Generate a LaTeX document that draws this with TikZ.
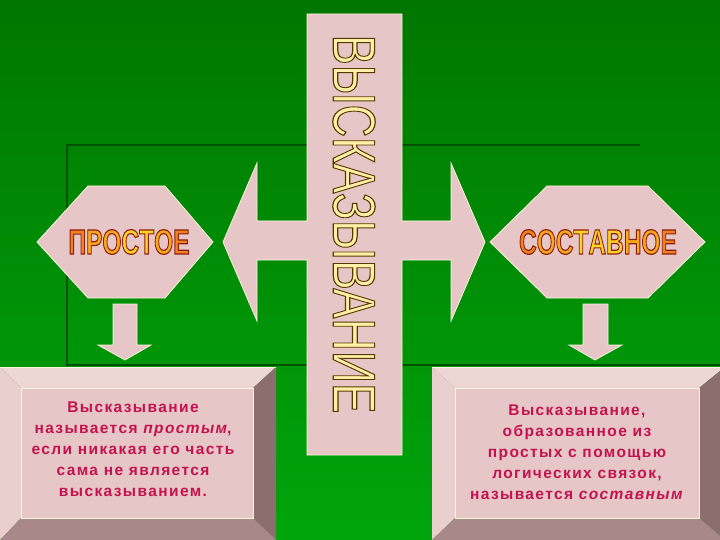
\documentclass[tikz,border=0pt]{standalone}
\usepackage{fontspec}
\usepackage{graphicx}
\setmainfont{Liberation Sans}

\definecolor{greentop}{RGB}{0,118,0}
\definecolor{greenbot}{RGB}{0,165,12}
\definecolor{framegreen}{RGB}{0,80,0}
\definecolor{paper}{RGB}{230,198,198}
\definecolor{paperlight}{RGB}{238,214,212}
\definecolor{paperdark}{RGB}{140,110,110}
\definecolor{papermid}{RGB}{168,136,136}
\definecolor{rim}{RGB}{250,246,220}
\definecolor{crimson}{RGB}{196,18,78}
\definecolor{titlefill}{RGB}{255,240,168}
\definecolor{hexedge}{RGB}{240,128,32}
\definecolor{hexmid}{RGB}{250,168,30}
\definecolor{hexcore}{RGB}{255,210,40}

% letters with a dark outline (fill colour, stroke rgb, text)
\newcommand{\outlined}[3]{{\color{#1}\special{pdf:literal direct #2 RG 2 Tr 1.2 w}#3\special{pdf:literal direct 0 Tr}}}
\newcommand{\hl}[2]{\outlined{#1}{0.55 0.12 0.05}{#2}}

\begin{document}
\begin{tikzpicture}[x=1pt,y=-1pt,
    paper/.style={fill=paper, draw=rim, line width=0.8pt},
    hextext/.style={font=\fontsize{35}{35}\selectfont\bfseries},
    boxtext/.style={text=crimson, align=center,
      font=\fontsize{15.5}{21}\selectfont\bfseries\addfontfeature{LetterSpace=9}}
  ]
  \shade[top color=greentop, bottom color=greenbot] (0,0) rectangle (720,540);
  \useasboundingbox (0,0) rectangle (720,540);
  % dark frame behind the cross
  \draw[framegreen, line width=2.5pt] (640,145) -- (67,145) -- (67,365) -- (720,365);

  % the cross with the double arrow
  \draw[paper] (307,14) -- (402,14) -- (402,221) -- (451,221) -- (451,163) -- (485,242)
    -- (451,321) -- (451,260) -- (402,260) -- (402,455) -- (307,455) -- (307,260)
    -- (257,260) -- (257,321) -- (223,242) -- (257,163) -- (257,221) -- (307,221) -- cycle;
  \node[rotate=-90] (statement) at (354,224)
    {\fontsize{60}{60}\selectfont\scalebox{0.75}[1]{\outlined{titlefill}{0.35 0.22 0}{ВЫСКАЗЫВАНИЕ}}};

  % hexagons
  \draw[paper] (37,242) -- (88,186) -- (165,186) -- (213,242) -- (165,298) -- (88,298) -- cycle;
  \draw[paper] (490,242) -- (547,186) -- (648,186) -- (705,242) -- (648,298) -- (547,298) -- cycle;
  \node[hextext] (simple) at (129,242)
    {\scalebox{0.7}[1]{\hl{hexedge}{П}\hl{hexmid}{Р}\hl{hexmid}{О}\hl{hexcore}{С}\hl{hexcore}{Т}\hl{hexmid}{О}\hl{hexedge}{Е}}};
  \node[hextext] (compound) at (598,242)
    {\scalebox{0.7}[1]{\hl{hexedge}{С}\hl{hexmid}{О}\hl{hexmid}{С}\hl{hexcore}{Т}\hl{hexcore}{А}\hl{hexcore}{В}\hl{hexmid}{Н}\hl{hexmid}{О}\hl{hexedge}{Е}}};

  % small down arrows
  \draw[paper] (113,304) -- (137,304) -- (137,345) -- (151,345) -- (125,360) -- (98,345) -- (113,345) -- cycle;
  \draw[paper] (583,304) -- (608,304) -- (608,345) -- (622,345) -- (595,360) -- (569,345) -- (583,345) -- cycle;

  % bevelled boxes
  \foreach \xa/\xb/\ia/\ib in {0/276/21/253, 432/725/455/699} {
    \fill[paperlight] (\xa,367) -- (\xb,367) -- (\ib,388) -- (\ia,388) -- cycle;
    \fill[paper!85!white] (\xa,367) -- (\ia,388) -- (\ia,518) -- (\xa,540) -- cycle;
    \fill[paperdark] (\xb,367) -- (\xb,540) -- (\ib,518) -- (\ib,388) -- cycle;
    \fill[papermid] (\xa,540) -- (\ia,518) -- (\ib,518) -- (\xb,540) -- cycle;
    \draw[paper] (\ia,388) rectangle (\ib,518);
    \draw[rim, line width=0.6pt] (\xa,367) -- (\xb,367);
  }
  \node[boxtext] (simpletext) at (133,449)
    {Высказывание\\называется \textit{простым},\\если никакая его часть\\сама не является\\высказыванием.};
  \node[boxtext] (compoundtext) at (577,452)
    {Высказывание,\\образованное из\\простых с помощью\\логических связок,\\называется \textit{составным}};
\end{tikzpicture}
\end{document}
